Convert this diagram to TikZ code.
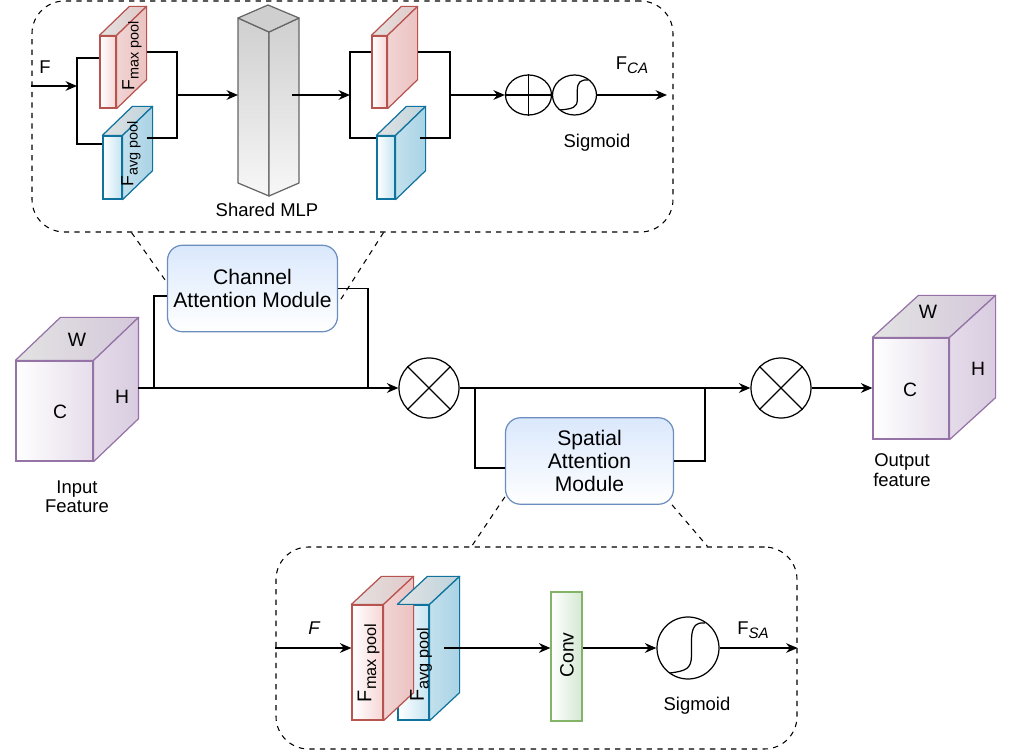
\documentclass[tikz,border=0pt]{standalone}
\usepackage{fontspec}
\setmainfont{Liberation Sans}
\usetikzlibrary{arrows.meta,shapes.geometric}

\definecolor{linered}{HTML}{B85450}
\definecolor{frontred}{HTML}{F6D6D5}
\definecolor{topred}{HTML}{E2C8C7}
\definecolor{sidered}{HTML}{EBC2C1}
\definecolor{lineblue}{HTML}{10739E}
\definecolor{frontblue}{HTML}{C4E4F2}
\definecolor{topblue}{HTML}{BCD3DC}
\definecolor{sideblue}{HTML}{A9D3E5}
\definecolor{linepurp}{HTML}{9673A6}
\definecolor{frontpurp}{HTML}{E6DDEB}
\definecolor{toppurp}{HTML}{D4C8DA}
\definecolor{sidepurp}{HTML}{D9CCE0}
\definecolor{linemod}{HTML}{6C8EBF}
\definecolor{fillmod}{HTML}{DAE8FC}
\definecolor{lineconv}{HTML}{82B366}
\definecolor{fillconv}{HTML}{D5E8D4}
\definecolor{linegray}{HTML}{666666}
\definecolor{topgray}{HTML}{CFCFCF}
\definecolor{botgray}{HTML}{F7F7F7}

\newcommand{\subtext}[1]{\raisebox{-0.45ex}{\scalebox{0.82}{#1}}}

\begin{document}
\begin{tikzpicture}[
        >={Stealth[length=6.5pt,width=5.5pt]},
        wire/.style={line width=0.9pt},
        link/.style={dashed, line width=0.6pt},
        pane/.style={rectangle, draw, dashed, line width=0.6pt, rounded corners=0.65cm},
        module/.style={rectangle, rounded corners=0.3cm, draw=linemod, line width=0.7pt, top color=fillmod, bottom color=white, align=center, minimum width=3.36cm, minimum height=1.73cm, font=\fontsize{12}{13}\selectfont},
        redslab/.style={rectangle, draw=linered, line width=0.7pt, left color=white, right color=frontred, inner sep=0pt},
        blueslab/.style={rectangle, draw=lineblue, line width=0.7pt, left color=white, right color=frontblue, inner sep=0pt},
        purpslab/.style={rectangle, draw=linepurp, line width=0.7pt, left color=white, right color=frontpurp, inner sep=0pt},
        convbox/.style={rectangle, draw=lineconv, line width=0.7pt, left color=white, right color=fillconv, inner sep=0pt},
        opnode/.style={circle, draw, line width=0.7pt, minimum size=1.2cm, inner sep=0pt},
        ovalop/.style={ellipse, draw, line width=0.7pt, minimum height=0.8cm, inner sep=0pt},
        lbl/.style={font=\fontsize{10.5}{11}\selectfont, align=center},
        poolsmall/.style={font=\fontsize{10}{12}\selectfont, rotate=90},
        poolbig/.style={font=\fontsize{11.3}{13}\selectfont, rotate=90}
    ]
        \useasboundingbox (0,0) rectangle (20.22,15);

        % Pannelli tratteggiati
        \node[pane, minimum width=12.82cm, minimum height=4.62cm] (cpanel) at (7.05,12.67) {};
        \node[pane, minimum width=10.42cm, minimum height=4.04cm] (spanel) at (10.73,2.04) {};

        % Blocchi di pooling (facce frontali)
        \node[redslab, minimum width=0.32cm, minimum height=1.44cm] (mx1) at (2.16,13.56) {};
        \node[blueslab, minimum width=0.38cm, minimum height=1.26cm] (av1) at (2.25,11.65) {};
        \node[redslab, minimum width=0.3cm, minimum height=1.44cm] (mx2) at (7.59,13.56) {};
        \node[blueslab, minimum width=0.36cm, minimum height=1.26cm] (av2) at (7.72,11.65) {};
        \node[redslab, minimum width=0.62cm, minimum height=2.3cm] (mx3) at (7.35,1.75) {};
        \node[blueslab, minimum width=0.62cm, minimum height=2.3cm] (av3) at (8.27,1.75) {};

        % Cubi di feature
        \node[purpslab, minimum width=1.54cm, minimum height=2.0cm] (cin) at (1.09,6.78) {};
        \node[purpslab, minimum width=1.52cm, minimum height=2.02cm] (cout) at (18.22,7.23) {};

        % Facce superiori e laterali
        \foreach \n/\dx/\dy/\c in {mx1/0.6/0.58/red, av1/0.6/0.58/blue, mx2/0.6/0.58/red, av2/0.6/0.58/blue,
                                   mx3/0.6/0.56/red, av3/0.6/0.56/blue, cin/0.9/0.86/purp, cout/0.92/0.84/purp} {
            \draw[draw=line\c, line width=0.7pt, line join=round, left color=gray!22!white, right color=top\c]
                (\n.north west) -- ++(\dx,\dy) -- ([shift={(\dx,\dy)}]\n.north east) -- (\n.north east) -- cycle;
            \draw[draw=line\c, line width=0.7pt, line join=round, left color=side\c!70!white, right color=side\c]
                (\n.north east) -- ++(\dx,\dy) -- ([shift={(\dx,\dy)}]\n.south east) -- (\n.south east) -- cycle;
        }

        % Shared MLP
        \draw[draw=linegray, line width=0.7pt, line join=round, top color=topgray, bottom color=botgray]
            (4.76,14.64) -- (5.38,14.36) -- (5.38,11.08) -- (4.76,11.34) -- cycle;
        \draw[draw=linegray, line width=0.7pt, line join=round, top color=topgray, bottom color=botgray]
            (5.38,14.36) -- (5.98,14.64) -- (5.98,11.34) -- (5.38,11.08) -- cycle;
        \draw[draw=linegray, line width=0.7pt, line join=round, fill=topgray]
            (4.76,14.64) -- (5.36,14.9) -- (5.98,14.64) -- (5.38,14.36) -- cycle;

        % Operatori
        \node[ovalop, minimum width=0.92cm] (plus) at (10.57,13.1) {};
        \node[ovalop, minimum width=0.88cm] (sg1) at (11.49,13.1) {};
        \node[opnode] (m1) at (8.58,7.24) {};
        \node[opnode] (m2) at (15.62,7.24) {};
        \node[opnode, minimum size=1.24cm] (sg2) at (13.76,2.04) {};
        \node[convbox, minimum width=0.62cm, minimum height=2.58cm] (conv) at (11.33,1.87) {};

        \draw[line width=0.7pt] (plus.north) -- (plus.south) (plus.west) -- (plus.east);
        \foreach \m in {m1,m2}
            \draw[line width=0.7pt] (\m.45) -- (\m.225) (\m.135) -- (\m.315);
        \foreach \s/\kx/\ky in {sg1/0.8/0.6, sg2/1/1}
            \draw[line width=0.7pt, shift={(\s.center)}, xscale=\kx, yscale=\ky]
                (-0.36,-0.5) .. controls (-0.05,-0.46) and (0.07,-0.42) .. (0.07,-0.15)
                -- (0.07,0.15) .. controls (0.07,0.42) and (0.15,0.52) .. (0.34,0.5);

        % Moduli di attenzione
        \node[module] (cam) at (5.05,9.23) {Channel\\Attention Module};
        \node[module] (sam) at (11.79,5.78) {Spatial\\Attention\\Module};

        % Etichette
        \node[lbl] (tF) at (0.9,13.66) {F};
        \node[lbl] (tFca) at (12.64,13.7) {F\subtext{\itshape CA}};
        \node[lbl] (tsg1) at (11.94,12.14) {Sigmoid};
        \node[lbl] (tmlp) at (5.34,10.8) {Shared MLP};
        \node[poolsmall] (tmx1) at (2.64,13.88) {F\subtext{max pool}};
        \node[poolsmall] (tav1) at (2.62,11.92) {F\subtext{avg pool}};
        \node[poolbig] (tmx3) at (7.37,1.74) {F\subtext{max pool}};
        \node[poolbig] (tav3) at (8.42,1.7) {F\subtext{avg pool}};
        \node[lbl, rotate=90, font=\fontsize{11}{12}\selectfont] (tconv) at (11.34,1.9) {Conv};
        \node[lbl] (tF2) at (6.28,2.44) {\itshape F};
        \node[lbl] (tFsa) at (15.06,2.4) {F\subtext{\itshape SA}};
        \node[lbl] (tsg2) at (13.94,0.88) {Sigmoid};
        \node[lbl, font=\fontsize{11}{12}\selectfont] (tW1) at (1.54,8.2) {W};
        \node[lbl, font=\fontsize{11}{12}\selectfont] (tC1) at (1.2,6.76) {C};
        \node[lbl, font=\fontsize{11}{12}\selectfont] (tH1) at (2.44,7.06) {H};
        \node[lbl] (tin) at (1.54,5.06) {Input\\Feature};
        \node[lbl, font=\fontsize{11}{12}\selectfont] (tW2) at (18.56,8.76) {W};
        \node[lbl, font=\fontsize{11}{12}\selectfont] (tC2) at (18.2,7.2) {C};
        \node[lbl, font=\fontsize{11}{12}\selectfont] (tH2) at (19.56,7.62) {H};
        \node[lbl] (tout) at (18.04,5.6) {Output\\feature};

        % Punti di snodo
        \coordinate (j1) at (1.54,13.28);
        \coordinate (k1) at (3.54,13.1);
        \coordinate (mlpin) at (4.76,13.1);
        \coordinate (mlpout) at (5.84,13.1);
        \coordinate (j2) at (7.0,13.1);
        \coordinate (k2) at (9.0,13.1);
        \coordinate (fca) at (13.34,13.1);
        \coordinate (s0) at (2.76,7.24);
        \coordinate (b1) at (3.08,7.24);
        \coordinate (b2) at (7.36,7.24);
        \coordinate (b3) at (9.5,7.24);
        \coordinate (b4) at (14.1,7.24);
        \coordinate (avout) at (8.88,2.04);

        % Connessioni: modulo di canale
        \draw[wire,->] (cpanel.west |- j1) -- (j1);
        \draw[wire] ([yshift=0.28cm]mx1.west) -| (j1) |- ([yshift=0.47cm]av1.west);
        \draw[wire] ([shift={(0.6,0.4)}]mx1.east) -| (k1);
        \draw[wire] ([shift={(0.48,0.59)}]av1.east) -| (k1);
        \draw[wire,->] (k1) -- (mlpin);
        \draw[wire,->] (mlpout) -- (j2);
        \draw[wire] ([yshift=0.4cm]mx2.west) -| (j2) |- ([yshift=0.59cm]av2.west);
        \draw[wire] ([shift={(0.6,0.4)}]mx2.east) -| (k2);
        \draw[wire] ([shift={(0.48,0.59)}]av2.east) -| (k2);
        \draw[wire,->] (k2) -- (plus);
        \draw[wire,->] (sg1) -- (fca);

        % Connessioni: flusso principale
        \draw[wire,->] (s0) -- (m1);
        \draw[wire] (b1) |- ([yshift=-0.15cm]cam.west);
        \draw[wire] (cam.east) -| (b2);
        \draw[wire,->] (m1) -- (m2);
        \draw[wire] (b3) |- ([yshift=-0.14cm]sam.west);
        \draw[wire] (sam.east) -| (b4);
        \draw[wire,->] (m2) -- (m2 -| cout.west);

        % Connessioni: modulo spaziale
        \draw[wire,->] (spanel.west |- avout) -- (avout -| mx3.west);
        \draw[wire,->] (avout) -- (avout -| conv.west);
        \draw[wire,->] (avout -| conv.east) -- (sg2);
        \draw[wire,->] (sg2) -- (sg2 -| spanel.east);

        % Richiami tratteggiati
        \draw[link] ([xshift=2cm]cpanel.south west) -- (cam.176);
        \draw[link] ([xshift=-5.8cm]cpanel.south east) -- (cam.350);
        \draw[link] (sam.203) -- ([xshift=3.92cm]spanel.north west);
        \draw[link] (sam.332) -- ([xshift=-1.8cm]spanel.north east);
    \end{tikzpicture}
\end{document}
